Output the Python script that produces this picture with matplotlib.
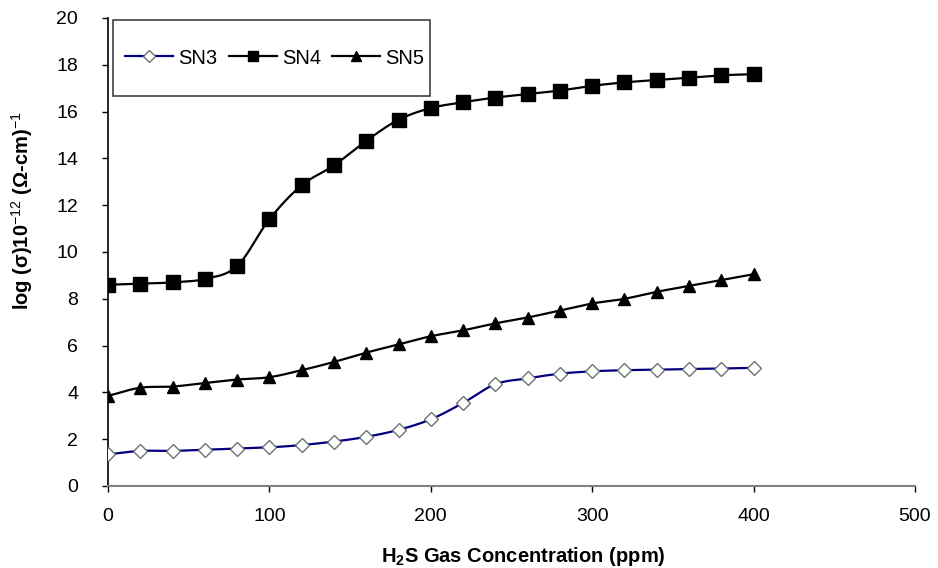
import numpy as np
import matplotlib
matplotlib.use("Agg")
import matplotlib.pyplot as plt
from matplotlib.patches import Rectangle

plt.rcParams['font.family'] = ['Liberation Sans', 'DejaVu Sans']
plt.rcParams['mathtext.fontset'] = 'custom'
plt.rcParams['mathtext.rm'] = 'Liberation Sans'
plt.rcParams['mathtext.bf'] = 'Liberation Sans:bold'

conc = [0, 20, 40, 60, 80, 100, 120, 140, 160, 180, 200, 220, 240, 260, 280, 300, 320, 340, 360, 380, 400]
sn3 = [1.35, 1.5, 1.5, 1.55, 1.6, 1.65, 1.75, 1.9, 2.1, 2.4, 2.85, 3.55, 4.35, 4.6, 4.8, 4.9, 4.95, 4.97, 5.0, 5.02, 5.05]
sn4 = [8.6, 8.65, 8.7, 8.85, 9.4, 11.4, 12.85, 13.7, 14.75, 15.65, 16.15, 16.4, 16.6, 16.75, 16.9, 17.1, 17.25, 17.35, 17.45, 17.55, 17.6]
sn5 = [3.85, 4.2, 4.25, 4.4, 4.55, 4.65, 4.95, 5.3, 5.7, 6.05, 6.4, 6.65, 6.95, 7.2, 7.5, 7.8, 8.0, 8.3, 8.55, 8.8, 9.05]


def smooth(x, y, n=20):
    x = np.asarray(x, float); y = np.asarray(y, float)
    px = np.concatenate([[2 * x[0] - x[1]], x, [2 * x[-1] - x[-2]]])
    py = np.concatenate([[2 * y[0] - y[1]], y, [2 * y[-1] - y[-2]]])
    xs, ys = [], []
    t = np.linspace(0, 1, n, endpoint=False)
    for i in range(1, len(px) - 2):
        p0, p1, p2, p3 = (np.array([px[j], py[j]]) for j in range(i - 1, i + 3))
        c1 = p1 + (p2 - p0) / 6.0
        c2 = p2 - (p3 - p1) / 6.0
        tt = t[:, None]
        pts = ((1 - tt) ** 3) * p1 + 3 * ((1 - tt) ** 2) * tt * c1 + 3 * (1 - tt) * tt ** 2 * c2 + tt ** 3 * p2
        xs.extend(pts[:, 0]); ys.extend(pts[:, 1])
    xs.append(x[-1]); ys.append(y[-1])
    return np.array(xs), np.array(ys)


fig = plt.figure(figsize=(9.38, 5.68), dpi=100)
ax = fig.add_axes([108 / 938, 1 - 486 / 568, (915 - 108) / 938, (486 - 18) / 568])

series = [
    ("SN3", sn3, '#000080', 'D', 'white', '#707070', 7.5, 6.0),
    ("SN4", sn4, 'black', 's', 'black', 'black', 9.5, 7.5),
    ("SN5", sn5, 'black', '^', 'black', 'black', 9, 7.0),
]
handles = []
for name, vals, lc, mk, mfc, mec, ms, lms in series:
    sx, sy = smooth(conc, vals)
    ax.plot(sx, sy, color=lc, lw=1.6, zorder=2)
    ax.plot(conc, vals, linestyle='none', marker=mk, markerfacecolor=mfc,
            markeredgecolor=mec, markersize=ms, markeredgewidth=1.0, zorder=3)
    h, = ax.plot([], [], color=lc, lw=1.6, marker=mk, markerfacecolor=mfc,
                 markeredgecolor=mec, markersize=lms, label=name)
    handles.append(h)

ax.set_xlim(0, 500)
ax.set_ylim(0, 20)
ax.set_xticks(np.arange(0, 501, 100))
ax.set_yticks(np.arange(0, 21, 2))
ax.tick_params(axis='both', direction='out', length=4.5, width=1, labelsize=14)
ax.tick_params(axis='x', pad=11)
ax.tick_params(axis='y', pad=17)
for s in ['top', 'right']:
    ax.spines[s].set_visible(False)
ax.spines['left'].set_color('black')
ax.spines['bottom'].set_color('#808080')
ax.spines['left'].set_linewidth(1.2)
ax.spines['bottom'].set_linewidth(1.5)

ax.set_xlabel(r'H$_{\mathbf{2}}$S Gas Concentration (ppm)', fontsize=14.5, fontweight='bold')
ax.xaxis.set_label_coords(0.515, -0.125)
ax.set_ylabel(r'log (σ)10$^{\mathrm{-12}}$ (Ω-cm)$^{\mathrm{-1}}$', fontsize=14.5, fontweight='bold')
ax.yaxis.set_label_coords(-0.091, 0.588)

# legend box
ax.add_patch(Rectangle((5 / 807, (486 - 96) / 468), (430 - 113) / 807, 76 / 468,
                       transform=ax.transAxes, facecolor='white', edgecolor='#404040',
                       lw=1.2, zorder=4, clip_on=False))
leg = ax.legend(handles=handles, ncol=3, loc='center left',
                bbox_to_anchor=((125 - 108) / 807, (486 - 58) / 468),
                fontsize=14.5, frameon=False,
                handlelength=2.4, handletextpad=0.25, columnspacing=0.55,
                borderpad=0.0, borderaxespad=0.0)
leg.set_zorder(5)

fig.savefig('out.png', dpi=100)
